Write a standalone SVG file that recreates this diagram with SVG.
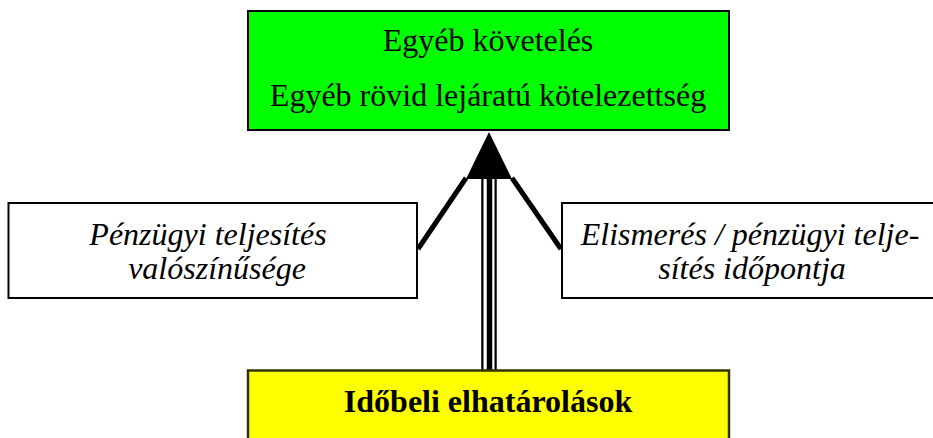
<svg xmlns="http://www.w3.org/2000/svg" width="933" height="438" viewBox="0 0 933 438">
<style>
.t{font-family:"Liberation Serif","Times New Roman",serif;font-size:32px;fill:#000;text-anchor:middle}
.i{font-style:italic}
.b{font-weight:bold}
.box{stroke:#000;stroke-width:2}
</style>
<rect width="933" height="438" fill="#fff"/>
<g id="connectors">
<line x1="489" y1="179" x2="489" y2="371" stroke="#000" stroke-width="15.5"/>
<line x1="489" y1="179" x2="489" y2="371" stroke="#fff" stroke-width="11"/>
<line x1="489.5" y1="179" x2="489.5" y2="371" stroke="#000" stroke-width="5.5"/>
<polygon points="489,132 466,179 512,179" fill="#000"/>
<line x1="466" y1="178" x2="418" y2="249" stroke="#000" stroke-width="5"/>
<line x1="512" y1="178" x2="561" y2="249" stroke="#000" stroke-width="5"/>
</g>
<g id="node-top">
<rect class="box" x="248" y="11" width="481" height="119" fill="#00ff00"/>
<text class="t" x="488" y="51">Egyéb követelés</text>
<text class="t" x="488" y="106">Egyéb rövid lejáratú kötelezettség</text>
</g>
<g id="node-left">
<rect class="box" x="8.5" y="203" width="408.5" height="95" fill="#fff" stroke-width="1.5"/>
<text class="t i" x="208" y="245">Pénzügyi teljesítés</text>
<text class="t i" x="217" y="279">valószínűsége</text>
</g>
<g id="node-right">
<rect class="box" x="562" y="203" width="390" height="95" fill="#fff" stroke-width="1.5"/>
<text class="t i" x="750" y="245">Elismerés / pénzügyi telje-</text>
<text class="t i" x="752" y="279">sítés időpontja</text>
</g>
<g id="node-bottom">
<rect x="248" y="370.5" width="481" height="100" fill="#ffff00" stroke="#333300" stroke-width="2.5"/>
<text class="t b" x="488" y="412">Időbeli elhatárolások</text>
</g>
</svg>
